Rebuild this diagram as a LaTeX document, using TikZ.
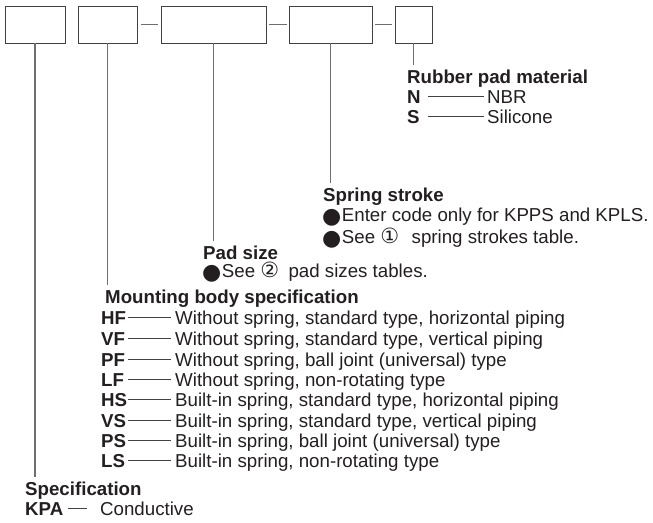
\documentclass[tikz,border=0pt]{standalone}
\usepackage{fontspec}
\setmainfont{Liberation Sans}
\newfontfamily\symfont{DejaVu Sans}
\usepackage{tikz}
\usetikzlibrary{positioning}
\definecolor{inkgray}{HTML}{231F20}
\definecolor{leadgray}{HTML}{6D6E71}
\newcommand{\legendsize}{\fontsize{18.7}{20.4}\selectfont}
\newcommand{\blt}{\raisebox{-2pt}{\smash{\symfont\fontsize{22}{20.4}\selectfont ●}}\kern0.5pt}
\newcommand{\cnum}[1]{\smash{\symfont\fontsize{21}{20.4}\selectfont #1}}

\begin{document}
\begin{tikzpicture}[
		x=1pt, y=-1pt,
		codebox/.style={draw=black!75, line width=0.9pt, inner sep=0pt, minimum height=37pt},
		lead/.style={draw=leadgray, line width=1.2pt},
		dashline/.style={draw=inkgray!85, line width=0.8pt},
		title/.style={anchor=base west, inner sep=0pt, text=inkgray, font=\legendsize\bfseries},
		code/.style={anchor=base west, inner sep=0pt, text=inkgray, font=\legendsize\bfseries},
		item/.style={anchor=base west, inner sep=0pt, text=inkgray, font=\legendsize},
		]
		\useasboundingbox (0,0) rectangle (653,522);
		
		% Les cases du code
		\node[codebox, minimum width=60pt] (b1) at (35,24.5) {};
		\node[codebox, minimum width=59pt] (b2) at (107.5,24.5) {};
		\node[codebox, minimum width=105pt] (b3) at (213.5,24.5) {};
		\node[codebox, minimum width=83pt] (b4) at (330.5,24.5) {};
		\node[codebox, minimum width=37pt] (b5) at (413.5,24.5) {};
		
		% Les tirets entre les cases
		\draw[lead] ([xshift=4pt]b2.east) -- ([xshift=-3pt]b3.west);
		\draw[lead] ([xshift=3pt]b3.east) -- ([xshift=-2pt]b4.west);
		\draw[lead] ([xshift=3pt]b4.east) -- ([xshift=-3pt]b5.west);
		
		% Les titres
		\node[title] (t1) at (25,495) {Specification};
		\node[title] (t2) at (105,303) {Mounting body specification};
		\node[title] (t3) at (203,259) {Pad size};
		\node[title] (t4) at (323,201) {Spring stroke};
		\node[title] (t5) at (407,83) {Rubber pad material};
		
		% Les traits verticaux
		\draw[lead] (b1.south) -- ([yshift=4pt]b1.south |- t1.north);
		\draw[lead] (b2.south) -- ([yshift=4pt]b2.south |- t2.north);
		\draw[lead] (b3.south) -- ([yshift=4pt]b3.south |- t3.north);
		\draw[lead] (b4.south) -- ([yshift=4pt]b4.south |- t4.north);
		\draw[lead] (b5.south) -- ([yshift=4pt]b5.south |- t5.north);
		
		% Rubber pad material
		\node[code] (n) at (407,103) {N};
		\node[item] (nd) at (487,103) {NBR};
		\node[code] (s) at (407,123) {S};
		\node[item] (sd) at (487,123) {Silicone};
		\coordinate (rcol) at (428,0);
		\draw[dashline] (rcol |- n.east) -- ([xshift=-3pt]n.east -| nd.west);
		\draw[dashline] (rcol |- s.east) -- ([xshift=-3pt]s.east -| sd.west);
		
		% Spring stroke
		\node[item] (s1) at (322,221.5) {\blt Enter code only for KPPS and KPLS.};
		\node[item] (s2) at (322,243) {\blt See \cnum{①}\enspace\thinspace spring strokes table.};
		
		% Pad size
		\node[item] (p1) at (202,277) {\blt See \cnum{②}\enspace pad sizes tables.};
		
		% Mounting body specification
		\node[code] (hf) at (101,324) {HF};
		\node[item] (hfd) at (175,324) {Without spring, standard type, horizontal piping};
		\node[code] (vf) at (101,345) {VF};
		\node[item] (vfd) at (175,345) {Without spring, standard type, vertical piping};
		\node[code] (pf) at (101,366) {PF};
		\node[item] (pfd) at (175,366) {Without spring, ball joint (universal) type};
		\node[code] (lf) at (101,386) {LF};
		\node[item] (lfd) at (175,386) {Without spring, non-rotating type};
		\node[code] (hs) at (101,406) {HS};
		\node[item] (hsd) at (175,406) {Built-in spring, standard type, horizontal piping};
		\node[code] (vs) at (101,427) {VS};
		\node[item] (vsd) at (175,427) {Built-in spring, standard type, vertical piping};
		\node[code] (ps) at (101,447) {PS};
		\node[item] (psd) at (175,447) {Built-in spring, ball joint (universal) type};
		\node[code] (ls) at (101,467) {LS};
		\node[item] (lsd) at (175,467) {Built-in spring, non-rotating type};
		\coordinate (mcol) at (128,0);
		\draw[dashline] (mcol |- hf.east) -- ([xshift=-4pt]hf.east -| hfd.west);
		\draw[dashline] (mcol |- vf.east) -- ([xshift=-4pt]vf.east -| vfd.west);
		\draw[dashline] (mcol |- pf.east) -- ([xshift=-4pt]pf.east -| pfd.west);
		\draw[dashline] (mcol |- lf.east) -- ([xshift=-4pt]lf.east -| lfd.west);
		\draw[dashline] (mcol |- hs.east) -- ([xshift=-4pt]hs.east -| hsd.west);
		\draw[dashline] (mcol |- vs.east) -- ([xshift=-4pt]vs.east -| vsd.west);
		\draw[dashline] (mcol |- ps.east) -- ([xshift=-4pt]ps.east -| psd.west);
		\draw[dashline] (mcol |- ls.east) -- ([xshift=-4pt]ls.east -| lsd.west);
		
		% Specification
		\node[code] (kpa) at (25,515) {KPA};
		\node[item] (kpad) at (100,515) {Conductive};
		\draw[dashline] ([xshift=5pt]kpa.east) -- ([xshift=-13pt]kpa.east -| kpad.west);
	\end{tikzpicture}
\end{document}
